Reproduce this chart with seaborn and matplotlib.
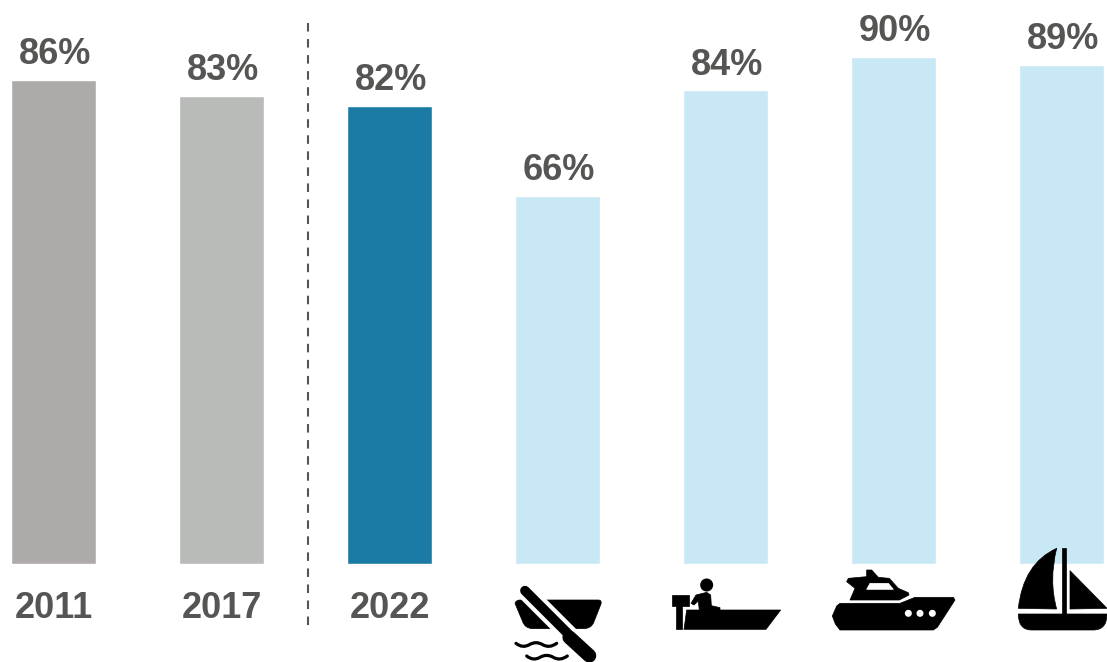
import matplotlib
matplotlib.use("Agg")
import matplotlib.pyplot as plt
import pandas as pd
import seaborn as sns
from matplotlib.patches import Circle, PathPatch, Polygon
from matplotlib.path import Path

categories = ["2011", "2017", "2022", "Rowboat", "Motorboat", "Yacht", "Sailboat"]
values = [86.0, 83.2, 81.4, 65.4, 84.2, 90.1, 88.7]
value_labels = ["86%", "83%", "82%", "66%", "84%", "90%", "89%"]
tick_labels = ["2011", "2017", "2022", "", "", "", ""]
bar_colors = ["#AEAAA9", "#B9BBB8", "#1B7BA4", "#C9E8F5", "#C9E8F5", "#C9E8F5", "#C9E8F5"]

TEXT = "#555553"
BLACK = "#000000"

sns.set_theme(style="white")
plt.rcParams["font.family"] = ["Liberation Sans", "DejaVu Sans"]

W, H = 1107, 662
fig = plt.figure(figsize=(W / 100, H / 100), dpi=100)
ax = fig.add_axes([0, 0, 1, 1])

df = pd.DataFrame({"cat": categories, "val": values})
sns.barplot(data=df, x="cat", y="val", hue="cat", palette=bar_colors, width=0.5012,
            legend=False, saturation=1, ax=ax)

# 168 px between bars, first centre near 54 px; baseline near 564 px
ax.set_xlim(-53.5 / 168, (W - 53.5) / 168)
ax.set_ylim(-(H - 563.8) / 5.625, 563.8 / 5.625)
sns.despine(ax=ax, left=True)
ax.spines["bottom"].set_position(("data", 0))
ax.spines["bottom"].set_visible(False)
ax.set_xlabel("")
ax.set_ylabel("")
ax.set_yticks([])
ax.set_xticks(range(len(categories)))
ax.set_xticklabels(tick_labels, fontsize=26, fontweight="bold", color=TEXT)
ax.tick_params(axis="x", length=0, pad=19.5)
ax.patch.set_alpha(0)

for cont, lab in zip(ax.containers, value_labels):
    texts = ax.bar_label(cont, labels=[lab], padding=5.5, fontsize=26, fontweight="bold", color=TEXT)
    for t in texts:
        t.xyann = (1, 5.5)

# overlay in pixel coordinates for the divider and the boat icons
ov = fig.add_axes([0, 0, 1, 1])
ov.set_xlim(0, W)
ov.set_ylim(H, 0)
ov.axis("off")
ov.patch.set_alpha(0)

ov.plot([308, 308], [23, 630], color="#555555", lw=1.5, linestyle=(0, (4.1, 3.6)),
        dash_capstyle="butt")


def z1(pts):
    return [(490 + x / 3, 540 + y / 3) for x, y in pts]


def z2(pts):
    return [(810 + x / 3, 540 + y / 3) for x, y in pts]


def poly(pts, color=BLACK):
    ov.add_patch(Polygon(pts, closed=True, fc=color, ec=color, lw=0.5, joinstyle="round"))


def curved(pts, codes):
    ov.add_patch(PathPatch(Path(pts, codes), fc=BLACK, ec=BLACK, lw=0.5))


M, L, C = Path.MOVETO, Path.LINETO, Path.CURVE3

# rowboat
curved(z1([(75, 190), (78, 180), (90, 180), (325, 180), (336, 180), (333, 192), (312, 245),
           (305, 266), (280, 266), (130, 266), (105, 266), (98, 245), (75, 190)]),
       [M, C, C, L, C, C, L, C, C, L, C, C, L])
ov.plot(*zip(*z1([(75, 122), (272, 319)])), color="white", lw=13, solid_capstyle="butt")
ov.plot(*zip(*z1([(105, 152), (235, 282)])), color=BLACK, lw=7, solid_capstyle="round")
ov.plot(*zip(*z1([(238, 292), (298, 347)])), color=BLACK, lw=10, solid_capstyle="round")
for x0, y0 in [(78, 310), (110, 348)]:
    codes = [M] + [C] * 6
    pts = z1([(x0, y0), (x0 + 20, y0 + 16), (x0 + 40, y0 + 4), (x0 + 60, y0 - 8), (x0 + 80, y0 + 4),
              (x0 + 100, y0 + 16), (x0 + 122, y0)])
    ov.add_patch(PathPatch(Path(pts, codes), fc="none", ec=BLACK, lw=2.3, capstyle="round"))

# motorboat
ov.add_patch(Circle(z1([(650, 135)])[0], 6.5, fc=BLACK, ec="none"))
poly(z1([(590, 210), (872, 210), (828, 268), (582, 268)]))
poly(z1([(603, 190), (618, 165), (650, 157), (662, 165), (664, 197), (690, 203), (690, 212),
         (628, 212), (625, 183), (612, 195)]))
poly(z1([(545, 165), (597, 165), (597, 197), (575, 197), (575, 268), (558, 268), (558, 197), (545, 197)]))

# yacht
poly(z2([(90, 190), (270, 190), (315, 172), (430, 172), (435, 180), (382, 262), (370, 270),
         (90, 270), (76, 252), (67, 228), (80, 198)]))
poly(z2([(120, 180), (135, 145), (110, 125), (115, 115), (170, 110), (170, 90), (185, 90),
         (205, 112), (238, 115), (265, 145), (295, 158), (297, 165), (268, 180)]))
poly(z2([(170, 148), (180, 130), (235, 130), (250, 148)]), "white")
for cx in [295, 330, 367]:
    ov.add_patch(Circle(z2([(cx, 220)])[0], 3.5, fc="white", ec="none"))

# sailboat
curved(z2([(740, 25), (640, 70), (625, 205), (740, 207), (716, 120), (740, 25)]), [M, C, C, L, C, C])
poly(z2([(755, 25), (768, 25), (768, 222), (755, 222)]))
poly(z2([(780, 92), (891, 205), (780, 207)]))
curved(z2([(625, 222), (891, 222), (891, 270), (850, 270), (665, 270), (625, 270), (625, 222)]),
       [M, L, C, C, L, C, C])

fig.savefig("out.png", dpi=100)
